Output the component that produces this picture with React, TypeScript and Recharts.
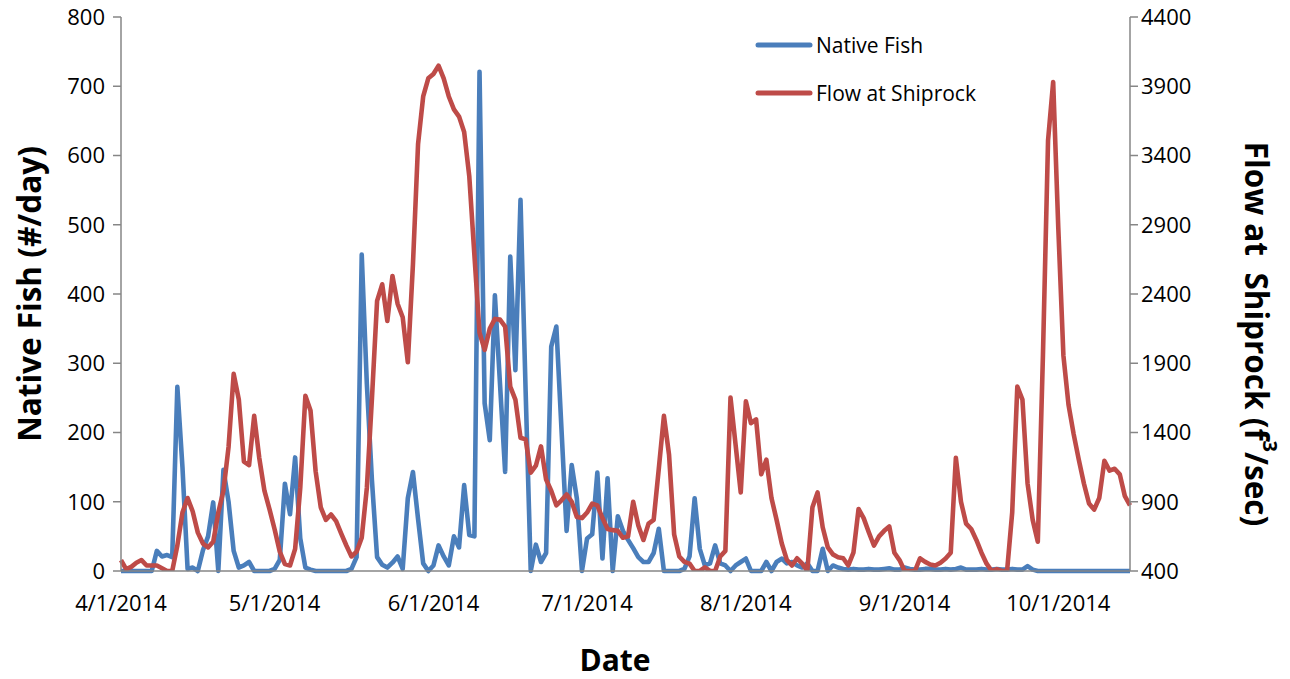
import { LineChart, Line, XAxis, YAxis, Legend, Label } from "recharts";

// day 0 = 4/1/2014, one value per day through 10/15/2014
const tickDays = [0, 30, 61, 91, 122, 153, 183];
const tickLabels = ["4/1/2014", "5/1/2014", "6/1/2014", "7/1/2014", "8/1/2014", "9/1/2014", "10/1/2014"];
const fishTicks = [0, 100, 200, 300, 400, 500, 600, 700, 800];
const flowTicks = [400, 900, 1400, 1900, 2400, 2900, 3400, 3900, 4400];
const seriesNames = ["Native Fish", "Flow at Shiprock"];

// Native fish (#/day)
const nativeFish = [
  0, 0, 0, 0, 0, 0, 0, 29, 21, 23,
  20, 266, 150, 3, 5, 0, 30, 50, 99, 0,
  146, 100, 29, 5, 8, 13, 0, 0, 0, 0,
  3, 16, 126, 82, 164, 47, 5, 2, 0, 0,
  0, 0, 0, 0, 0, 3, 20, 457, 270, 130,
  20, 9, 5, 12, 21, 3, 105, 143, 75, 11,
  0, 8, 37, 21, 8, 50, 34, 124, 52, 50,
  721, 242, 189, 398, 270, 143, 454, 290, 536, 260,
  0, 38, 13, 26, 324, 353, 205, 58, 153, 105,
  0, 47, 53, 142, 18, 134, 0, 79, 58, 45,
  33, 20, 13, 13, 26, 61, 0, 0, 0, 0,
  3, 21, 105, 32, 8, 11, 37, 11, 8, 0,
  8, 13, 18, 0, 0, 0, 13, 0, 13, 18,
  11, 13, 8, 5, 11, 0, 0, 32, 0, 8,
  5, 3, 2, 3, 2, 2, 3, 2, 2, 3,
  4, 2, 2, 5, 3, 2, 2, 3, 3, 2,
  2, 3, 2, 3, 5, 2, 2, 2, 3, 2,
  2, 3, 2, 2, 3, 2, 2, 7, 2, 0,
  0, 0, 0, 0, 0, 0, 0, 0, 0, 0,
  0, 0, 0, 0, 0, 0, 0, 0,
];

// Flow at Shiprock (cfs)
const flowAtShiprock = [
  479, 413, 430, 460, 479, 440, 440, 440, 420, 400,
  400, 584, 822, 927, 830, 677, 598, 571, 611, 822,
  980, 1296, 1823, 1638, 1190, 1164, 1520, 1215, 980, 845,
  700, 540, 450, 440, 560, 1000, 1665, 1559, 1120, 860,
  769, 808, 760, 670, 584, 505, 540, 640, 1000, 1650,
  2350, 2470, 2205, 2530, 2330, 2232, 1907, 2614, 3483, 3826,
  3957, 3989, 4049, 3957, 3826, 3733, 3681, 3570, 3250, 2680,
  2120, 1996, 2150, 2220, 2215, 2165, 1731, 1638, 1362, 1350,
  1110, 1160, 1300, 1060, 980, 874, 910, 953, 900, 790,
  782, 822, 887, 874, 782, 703, 695, 690, 640, 650,
  900, 729, 624, 742, 769, 1138, 1520, 1240, 663, 505,
  466, 453, 400, 400, 426, 400, 400, 505, 545, 1652,
  1310, 967, 1625, 1467, 1494, 1098, 1204, 927, 769, 600,
  480, 440, 492, 453, 400, 861, 967, 716, 571, 520,
  500, 492, 440, 532, 848, 782, 680, 584, 650, 690,
  722, 532, 479, 400, 400, 400, 492, 466, 447, 440,
  460, 490, 532, 1217, 900, 742, 703, 624, 532, 453,
  400, 413, 400, 400, 822, 1731, 1638, 1032, 769, 611,
  1955, 3509, 3931, 2877, 1955, 1599, 1388, 1204, 1032, 887,
  843, 927, 1196, 1125, 1138, 1098, 940, 874,
];

const BLUE = "#4A7EBB";
const RED = "#BE4B48";
const GRID = "#868686";
const FONT = "'Open Sans', sans-serif";

const data = nativeFish.map((fish, day) => ({ day, fish, flow: flowAtShiprock[day] }));

const tickStyle = { fill: "#000", fontSize: 22, fontFamily: FONT };

function LegendBox(props: any) {
  const payload = props.payload || [];
  // keep the series order of the original legend
  const items = seriesNames
    .map((name) => payload.find((p: any) => p.value === name))
    .filter(Boolean);
  return (
    <div style={{ fontFamily: FONT, fontSize: 21, color: "#000" }}>
      {items.map((it: any) => (
        <div key={it.value} style={{ display: "flex", alignItems: "center", height: 48 }}>
          <svg width={58} height={10}>
            <line x1={3} y1={5} x2={55} y2={5} stroke={it.color} strokeWidth={5} strokeLinecap="round" />
          </svg>
          <span style={{ marginLeft: 3 }}>{it.value}</span>
        </div>
      ))}
    </div>
  );
}

export default function App() {
  return (
    <div style={{ width: 1290, height: 679, background: "#fff" }}>
      <style>{"body{margin:0}"}</style>
      <LineChart width={1290} height={679} data={data} margin={{ top: 17, right: 0, bottom: 0, left: 0 }}>
        <XAxis
          dataKey="day"
          type="number"
          domain={[0, 197]}
          ticks={tickDays}
          tickFormatter={(d: number) => tickLabels[tickDays.indexOf(d)]}
          tickLine={false}
          tickSize={8}
          tickMargin={16}
          height={108}
          axisLine={{ stroke: GRID, strokeWidth: 1.5 }}
          tick={tickStyle}
        >
          <Label
            content={() => (
              <text x={615} y={671} textAnchor="middle" fontFamily={FONT} fontWeight="bold" fontSize={30} fill="#000">
                Date
              </text>
            )}
          />
        </XAxis>
        <YAxis
          yAxisId="fish"
          orientation="left"
          width={121}
          domain={[0, 800]}
          ticks={fishTicks}
          tickSize={8}
          tickMargin={8}
          axisLine={{ stroke: GRID, strokeWidth: 1.5 }}
          tickLine={{ stroke: GRID, strokeWidth: 1.5 }}
          tick={tickStyle}
        >
          <Label
            content={() => (
              <text
                x={28}
                y={294}
                transform="rotate(-90 28 294)"
                textAnchor="middle"
                dominantBaseline="central"
                fontFamily={FONT}
                fontWeight="bold"
                fontSize={31.5}
                fill="#000"
              >
                Native Fish (#/day)
              </text>
            )}
          />
        </YAxis>
        <YAxis
          yAxisId="flow"
          orientation="right"
          width={160}
          domain={[400, 4400]}
          ticks={flowTicks}
          tickSize={8}
          tickMargin={3}
          allowDataOverflow
          axisLine={{ stroke: GRID, strokeWidth: 1.5 }}
          tickLine={{ stroke: GRID, strokeWidth: 1.5 }}
          tick={tickStyle}
        >
          <Label
            content={() => (
              <text
                x={1257}
                y={334}
                transform="rotate(90 1257 334)"
                textAnchor="middle"
                dominantBaseline="central"
                fontFamily={FONT}
                fontWeight="bold"
                fontSize={31.5}
                fill="#000"
                style={{ whiteSpace: "pre" }}
              >
                {"Flow at  Shiprock (f"}
                <tspan baselineShift="super" fontSize={20}>3</tspan>
                {"/sec)"}
              </text>
            )}
          />
        </YAxis>
        <Legend
          content={<LegendBox />}
          layout="horizontal"
          verticalAlign="middle"
          align="center"
          wrapperStyle={{ left: 755, top: 21, width: 280 }}
        />
        <Line
          yAxisId="fish"
          type="linear"
          dataKey="fish"
          name="Native Fish"
          stroke={BLUE}
          strokeWidth={4.6}
          strokeLinejoin="round"
          dot={false}
          isAnimationActive={false}
        />
        <Line
          yAxisId="flow"
          type="linear"
          dataKey="flow"
          name="Flow at Shiprock"
          stroke={RED}
          strokeWidth={4.6}
          strokeLinejoin="round"
          dot={false}
          isAnimationActive={false}
        />
      </LineChart>
    </div>
  );
}
